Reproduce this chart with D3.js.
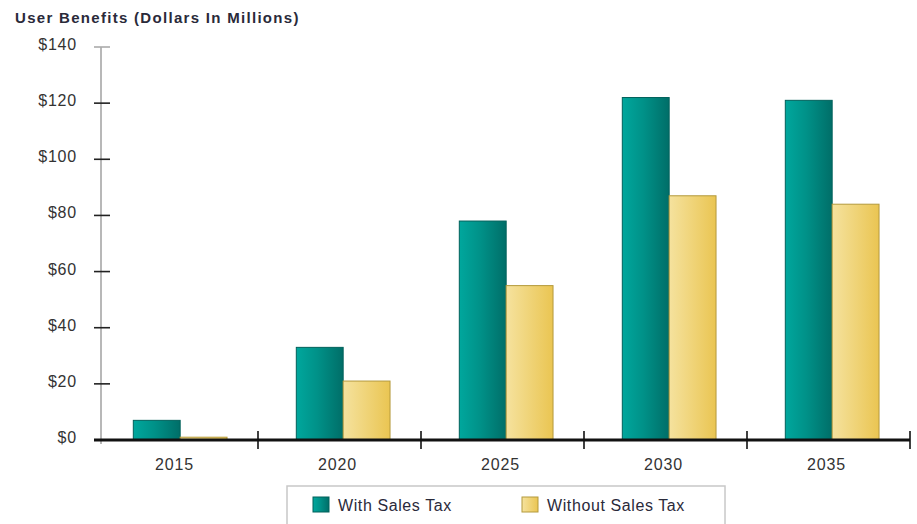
<!DOCTYPE html>
<html>
<head>
<meta charset="utf-8">
<script src="https://cdn.jsdelivr.net/npm/d3@7"></script>
<style>
  body { margin: 0; background: #fff; }
  svg text { font-family: "Liberation Sans", Arial, sans-serif; }
</style>
</head>
<body>
<svg id="chart" width="917" height="524"></svg>
<script>
var years = ["2015", "2020", "2025", "2030", "2035"];
var seriesNames = ["With Sales Tax", "Without Sales Tax"];
var withTax = [7, 33, 78, 122, 121];
var withoutTax = [1, 21, 55, 87, 84];
var yTicks = [0, 20, 40, 60, 80, 100, 120, 140];

var svg = d3.select("#chart");

var defs = svg.append("defs");
var gTeal = defs.append("linearGradient").attr("id", "gTeal");
gTeal.append("stop").attr("offset", "0%").attr("stop-color", "#00a79d");
gTeal.append("stop").attr("offset", "45%").attr("stop-color", "#009188");
gTeal.append("stop").attr("offset", "100%").attr("stop-color", "#006e68");
var gGold = defs.append("linearGradient").attr("id", "gGold");
gGold.append("stop").attr("offset", "0%").attr("stop-color", "#f5e29e");
gGold.append("stop").attr("offset", "100%").attr("stop-color", "#eac552");

var colors = ["url(#gTeal)", "url(#gGold)"];
var strokes = ["#00615b", "#b49a3c"];

var x = d3.scaleBand().domain(years).range([95, 910]);
var xs = d3.scaleBand().domain(seriesNames)
  .range([x.bandwidth() * 0.235, x.bandwidth() * 0.81]);
var y = d3.scaleLinear().domain([0, 140]).range([440, 47]);

// title
svg.append("text")
  .attr("x", 15).attr("y", 23)
  .attr("font-size", 15).attr("font-weight", "bold")
  .attr("letter-spacing", 1.3)
  .attr("fill", "#2a2a3a")
  .text("User Benefits (Dollars In Millions)");

// y axis
svg.append("line")
  .attr("x1", 101).attr("x2", 101)
  .attr("y1", y(140)).attr("y2", y(0) + 4)
  .attr("stroke", "#b8b8b8").attr("stroke-width", 2);

svg.selectAll(".ytick")
  .data(yTicks)
  .enter()
  .append("line")
  .attr("x1", 94).attr("x2", 110)
  .attr("y1", function(d) { return y(d); })
  .attr("y2", function(d) { return y(d); })
  .attr("stroke", function(d) { return d === 140 ? "#aaa" : "#222"; })
  .attr("stroke-width", 1.6);

svg.selectAll(".ylab")
  .data(yTicks)
  .enter()
  .append("text")
  .attr("x", 77)
  .attr("y", function(d) { return y(d) + 3; })
  .attr("text-anchor", "end")
  .attr("font-size", 16)
  .attr("letter-spacing", 0.8)
  .attr("fill", "#333")
  .text(function(d) { return "$" + d; });

// bars
var rows = years.map(function(yr, i) {
  return { year: yr, values: [withTax[i], withoutTax[i]] };
});

var groups = svg.selectAll(".grp")
  .data(rows)
  .enter()
  .append("g")
  .attr("transform", function(d) { return "translate(" + x(d.year) + ",0)"; });

groups.selectAll("rect")
  .data(function(d) {
    return d.values.map(function(v, k) { return { key: seriesNames[k], k: k, v: v }; });
  })
  .enter()
  .append("rect")
  .attr("x", function(d) { return xs(d.key); })
  .attr("width", xs.bandwidth())
  .attr("y", function(d) { return y(d.v); })
  .attr("height", function(d) { return y(0) - y(d.v); })
  .attr("fill", function(d) { return colors[d.k]; })
  .attr("stroke", function(d) { return strokes[d.k]; })
  .attr("stroke-width", 1);

// x axis
svg.append("line")
  .attr("x1", 94).attr("x2", 910)
  .attr("y1", y(0)).attr("y2", y(0))
  .attr("stroke", "#111").attr("stroke-width", 3);

svg.selectAll(".xsep")
  .data(years)
  .enter()
  .append("line")
  .attr("x1", function(d) { return x(d) + x.bandwidth(); })
  .attr("x2", function(d) { return x(d) + x.bandwidth(); })
  .attr("y1", y(0) - 9).attr("y2", y(0) + 9)
  .attr("stroke", "#111").attr("stroke-width", 1.6);

svg.selectAll(".xlab")
  .data(years)
  .enter()
  .append("text")
  .attr("x", function(d) { return x(d) + x.bandwidth() / 2 - 2; })
  .attr("y", 470)
  .attr("text-anchor", "middle")
  .attr("font-size", 16)
  .attr("letter-spacing", 0.8)
  .attr("fill", "#333")
  .text(function(d) { return d; });

// legend
var legend = svg.append("g");
legend.append("rect")
  .attr("x", 287).attr("y", 486)
  .attr("width", 438).attr("height", 50)
  .attr("fill", "#fff")
  .attr("stroke", "#c8c8c8").attr("stroke-width", 1.5);

var legendX = [313, 522];
var items = legend.selectAll(".li")
  .data(seriesNames)
  .enter()
  .append("g")
  .attr("transform", function(d, i) { return "translate(" + legendX[i] + ",497)"; });

items.append("rect")
  .attr("width", 16).attr("height", 15)
  .attr("fill", function(d, i) { return colors[i]; })
  .attr("stroke", function(d, i) { return strokes[i]; });

items.append("text")
  .attr("x", 25).attr("y", 14)
  .attr("font-size", 16)
  .attr("letter-spacing", 0.6)
  .attr("fill", "#2a2a3a")
  .text(function(d) { return d; });
</script>
</body>
</html>
